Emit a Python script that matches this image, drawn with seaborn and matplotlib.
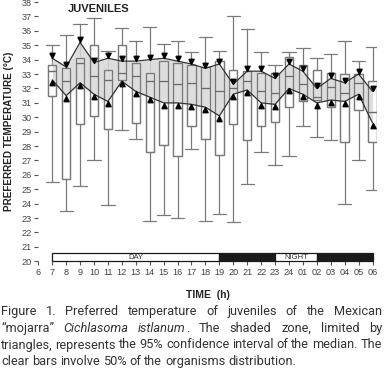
import numpy as np
import seaborn as sns
from matplotlib import pyplot as plt
from matplotlib.patches import Rectangle

hours = list(range(7, 31))
hour_labels = ["6", "7", "8", "9", "10", "11", "12", "13", "14", "15", "16", "17", "18", "19",
               "20", "21", "22", "23", "24", "01", "02", "03", "04", "05", "06"]
whisk_hi = [35.0, 35.7, 36.5, 36.9, 34.6, 36.2, 35.3, 36.3, 35.1, 35.3, 34.5, 35.6,
            34.6, 37.0, 36.1, 34.5, 33.6, 34.5, 34.8, 34.1, 34.4, 35.3, 33.9, 34.9]
q3 = [33.6, 33.4, 34.1, 35.0, 33.3, 35.0, 33.8, 33.1, 33.9, 33.8, 33.6, 33.5,
      33.9, 33.3, 33.2, 33.05, 33.1, 34.2, 33.6, 33.3, 33.05, 33.0, 33.0, 32.5]
median = [33.2, 32.5, 33.8, 32.9, 32.6, 33.1, 32.9, 32.5, 32.5, 32.3, 32.4, 32.0,
          31.8, 32.0, 32.5, 31.85, 31.7, 32.9, 32.3, 31.4, 32.1, 31.7, 32.4, 30.4]
q1 = [31.5, 25.7, 29.5, 30.1, 29.2, 32.6, 29.6, 27.6, 28.1, 27.3, 29.4, 28.5,
      27.4, 29.5, 28.4, 29.4, 29.7, 30.7, 31.1, 31.2, 30.7, 28.3, 30.5, 28.3]
whisk_lo = [25.5, 23.5, 25.2, 27.0, 23.9, 29.1, 28.5, 22.8, 23.2, 23.0, 27.8, 22.8,
            23.3, 22.7, 25.4, 27.6, 26.7, 27.3, 29.4, 28.65, 28.4, 24.0, 27.0, 24.95]
ci_hi = [34.1, 33.5, 35.2, 33.8, 34.1, 33.9, 33.9, 34.0, 34.1, 33.9, 33.7, 33.4,
         33.7, 32.3, 33.2, 33.2, 32.7, 33.7, 33.2, 32.0, 32.7, 32.4, 33.0, 31.8]
ci_lo = [32.6, 31.5, 32.4, 31.6, 31.1, 32.5, 31.8, 31.4, 31.0, 31.0, 30.9, 30.7,
         30.1, 31.6, 31.9, 31.0, 30.9, 32.0, 31.6, 31.0, 31.2, 31.1, 31.6, 29.6]
periods = [(7, 19, "DAY", "white"), (19, 23, "", "#1a1a1a"),
           (23, 26, "NIGHT", "white"), (26, 30, "", "#1a1a1a")]

sns.set_style("white")
plt.rcParams['font.family'] = ['Liberation Sans', 'DejaVu Sans']

fig = plt.figure(figsize=(3.84, 3.79), dpi=100)
ax = fig.add_axes([0.0997, 0.3106, 0.8813, 0.6839])

stats = []
for i, h in enumerate(hours):
    stats.append(dict(med=median[i], q1=q1[i], q3=q3[i], whislo=whisk_lo[i], whishi=whisk_hi[i], fliers=[]))

gray = "#7a7a7a"
# white boxes under the band, outlines on top of it
ax.bxp(stats, positions=hours, widths=0.6, patch_artist=True, showfliers=False,
       boxprops=dict(facecolor="white", edgecolor=gray, linewidth=0.9),
       whiskerprops=dict(color=gray, linewidth=0.9), capprops=dict(color=gray, linewidth=0.9),
       capwidths=0.95, medianprops=dict(color=gray, linewidth=0.9), zorder=1)
ax.fill_between(hours, ci_lo, ci_hi, color="#d8d8d8", alpha=0.85, zorder=2, linewidth=0)
ax.bxp(stats, positions=hours, widths=0.6, patch_artist=True, showfliers=False, showcaps=False,
       boxprops=dict(facecolor="none", edgecolor=gray, linewidth=0.9),
       whiskerprops=dict(linewidth=0), medianprops=dict(color="#6a6a6a", linewidth=0.9), zorder=3)

sns.lineplot(x=hours, y=ci_hi, color="#333333", linewidth=0.9, ax=ax, zorder=4)
sns.lineplot(x=hours, y=ci_lo, color="#333333", linewidth=0.9, ax=ax, zorder=4)
down_tri = [(-0.6, 1.2), (0.6, 1.2), (0.0, 0.0), (-0.6, 1.2)]
up_tri = [(-0.6, -1.2), (0.6, -1.2), (0.0, 0.0), (-0.6, -1.2)]
ax.plot(hours, ci_hi, linestyle="none", marker=down_tri, markersize=7.5, color="black", zorder=5)
ax.plot(hours, ci_lo, linestyle="none", marker=up_tri, markersize=7.5, color="black", zorder=5)

for start, end, label, color in periods:
    ax.add_patch(Rectangle((start, 20.0), end - start, 0.55, facecolor=color,
                           edgecolor="#1a1a1a", linewidth=0.9, zorder=6, clip_on=False))
    if label:
        ax.text((start + end) / 2, 20.27, label, ha="center", va="center", fontsize=5.5,
                color="#333333", zorder=7)

ax.set_xlim(6, 30.3)
ax.set_ylim(20, 38)
ax.set_xticks(range(6, 31))
ax.set_xticklabels(hour_labels)
ax.set_yticks(range(20, 39))
for s in ax.spines.values():
    s.set_visible(False)
ax.tick_params(axis="both", direction="out", length=3, width=0.8, color="#555555",
               labelsize=6.6, labelcolor="#444444", pad=2, left=True, bottom=True)
ax.set_xlabel("TIME  (h)", fontsize=7.5, fontweight="bold", color="#222222", labelpad=9)
ax.set_ylabel("PREFERRED TEMPERATURE (°C)", fontsize=7.2, fontweight="bold", color="#222222", labelpad=5)
ax.text(8.1, 37.55, "JUVENILES", fontsize=8, fontweight="bold", color="#222222", va="center")

# caption, justified like the printed figure
cap_font = ['Liberation Sans Narrow', 'Roboto', 'DejaVu Sans']
caption = [
    ([["Figure"], ["1."], ["Preferred"], ["temperature"], ["of"], ["juveniles"], ["of"], ["the"], ["Mexican"]], True),
    ([["\u201cmojarra\u201d"], [("Cichlasoma", "italic")], [("istlanum", "italic"), "."], ["The"], ["shaded"],
      ["zone,"], ["limited"], ["by"]], True),
    ([["triangles,"], ["represents"], ["the"], ["95%"], ["confidence"], ["interval"], ["of"], ["the"],
      ["median."], ["The"]], True),
    ([["clear"], ["bars"], ["involve"], ["50%"], ["of"], ["the"], ["organisms"], ["distribution."]], False),
]
line_y = [311.5, 328.5, 345.0, 361.5]
W, H = 384, 379
renderer = fig.canvas.get_renderer()
for (words, justify), yy in zip(caption, line_y):
    placed = []
    for word in words:
        segs = []
        for seg in word:
            txt, style = (seg, "normal") if isinstance(seg, str) else seg
            t = fig.text(0, 1 - yy / H, txt, fontsize=9.2, family=cap_font, style=style,
                         color="#333333", va="center")
            segs.append((t, t.get_window_extent(renderer).width))
        placed.append(segs)
    widths = [sum(w for _, w in segs) for segs in placed]
    gap = (382 - 1 - sum(widths)) / (len(placed) - 1) if justify else 3.0
    x = 1.0
    for segs, wd in zip(placed, widths):
        xx = x
        for t, w in segs:
            t.set_x(xx / W)
            xx += w
        x += wd + gap

plt.savefig("out.png", dpi=100)
